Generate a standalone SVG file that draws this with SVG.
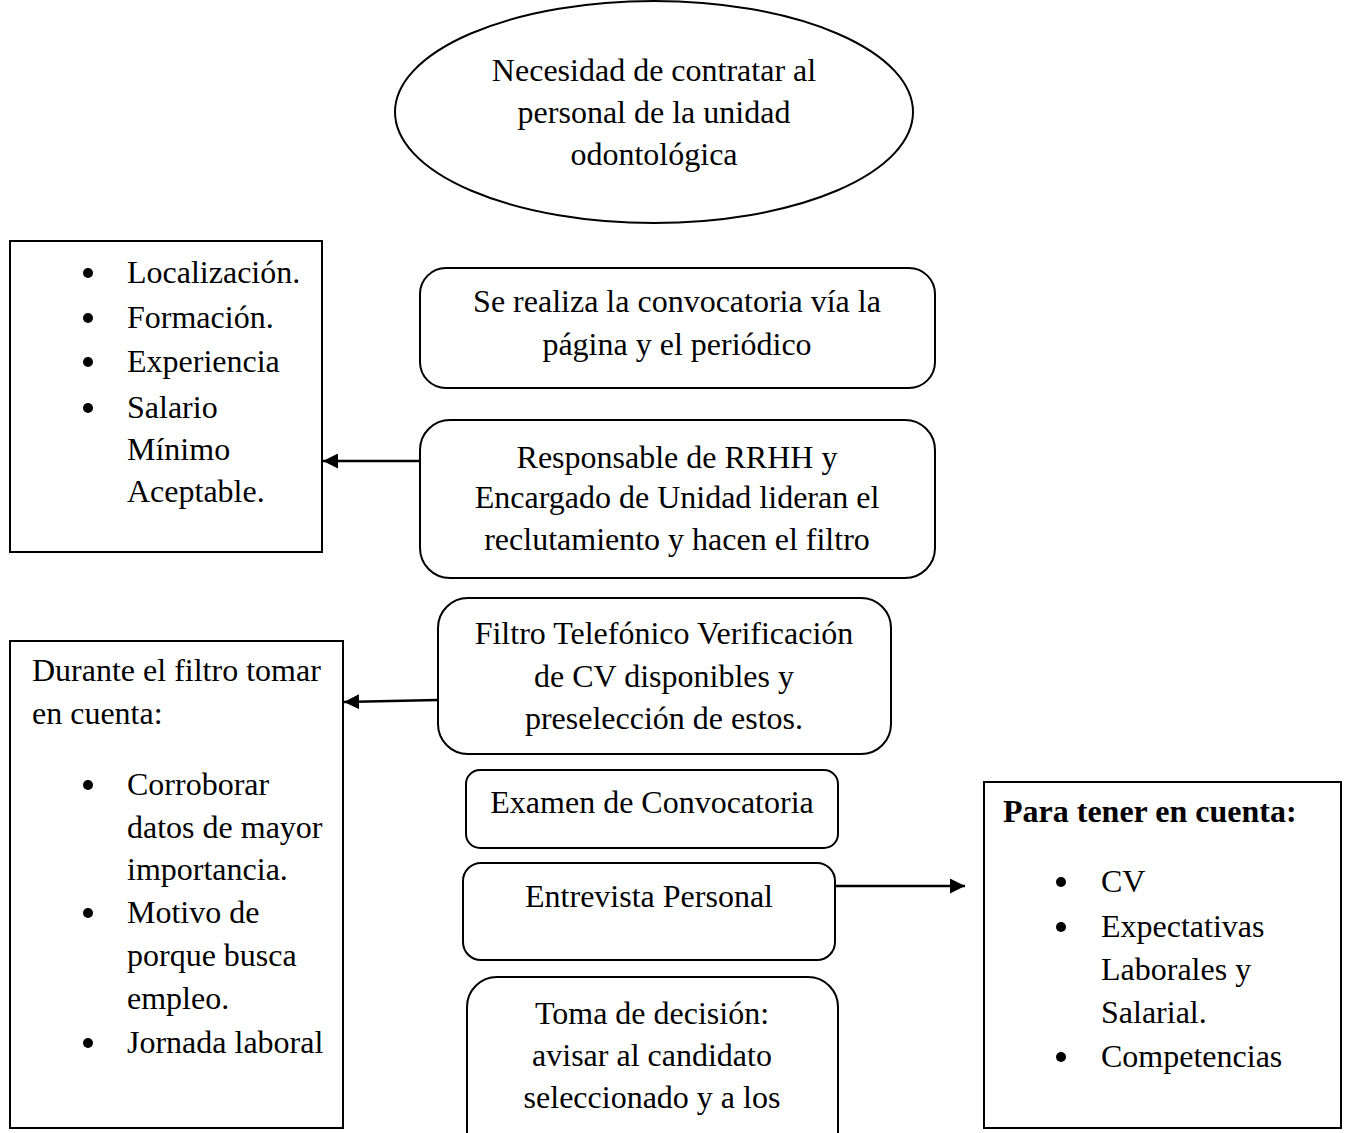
<svg xmlns="http://www.w3.org/2000/svg" width="1345" height="1133" viewBox="0 0 1345 1133">
<style>
  .shape { fill: #ffffff; stroke: #000000; stroke-width: 2; }
  .t { font-family: "Liberation Serif", "Times New Roman", serif; font-size: 32px; fill: #000000; }
  .c { text-anchor: middle; }
  .b { font-weight: bold; }
  .conn { stroke: #000000; stroke-width: 2.5; fill: none; marker-end: url(#arrow); }
</style>
<defs>
  <marker id="arrow" viewBox="0 0 10 10" refX="10" refY="5" markerWidth="6" markerHeight="6" markerUnits="strokeWidth" orient="auto">
    <path d="M0,0 L10,5 L0,10 z" fill="#000000"/>
  </marker>
</defs>
<rect x="0" y="0" width="1345" height="1133" fill="#ffffff"/>

<g id="n-necesidad">
  <ellipse class="shape" cx="654" cy="112" rx="259" ry="111"/>
  <text class="t c" x="654" y="81">Necesidad de contratar al</text>
  <text class="t c" x="654" y="123">personal de la unidad</text>
  <text class="t c" x="654" y="165">odontológica</text>
</g>

<g id="n-criterios">
  <rect class="shape" x="10" y="241" width="312" height="311"/>
  <circle cx="88" cy="273" r="5"/>
  <text class="t" x="127" y="283">Localización.</text>
  <circle cx="88" cy="318" r="5"/>
  <text class="t" x="127" y="328">Formación.</text>
  <circle cx="88" cy="362" r="5"/>
  <text class="t" x="127" y="372">Experiencia</text>
  <circle cx="88" cy="408" r="5"/>
  <text class="t" x="127" y="418">Salario</text>
  <text class="t" x="127" y="460">Mínimo</text>
  <text class="t" x="127" y="502">Aceptable.</text>
</g>

<g id="n-convocatoria">
  <rect class="shape" x="420" y="268" width="515" height="120" rx="26" ry="26"/>
  <text class="t c" x="677" y="312">Se realiza la convocatoria vía la</text>
  <text class="t c" x="677" y="355">página y el periódico</text>
</g>

<g id="n-responsable">
  <rect class="shape" x="420" y="420" width="515" height="158" rx="30" ry="30"/>
  <text class="t c" x="677" y="468">Responsable de RRHH y</text>
  <text class="t c" x="677" y="508">Encargado de Unidad lideran el</text>
  <text class="t c" x="677" y="550">reclutamiento y hacen el filtro</text>
</g>

<g id="n-filtro">
  <rect class="shape" x="438" y="598" width="453" height="156" rx="30" ry="30"/>
  <text class="t c" x="664" y="644">Filtro Telefónico Verificación</text>
  <text class="t c" x="664" y="687">de CV disponibles y</text>
  <text class="t c" x="664" y="729">preselección de estos.</text>
</g>

<g id="n-durante">
  <rect class="shape" x="10" y="641" width="333" height="487"/>
  <text class="t" x="32" y="681">Durante el filtro tomar</text>
  <text class="t" x="32" y="724">en cuenta:</text>
  <circle cx="88" cy="785" r="5"/>
  <text class="t" x="127" y="795">Corroborar</text>
  <text class="t" x="127" y="838">datos de mayor</text>
  <text class="t" x="127" y="880">importancia.</text>
  <circle cx="88" cy="913" r="5"/>
  <text class="t" x="127" y="923">Motivo de</text>
  <text class="t" x="127" y="966">porque busca</text>
  <text class="t" x="127" y="1009">empleo.</text>
  <circle cx="88" cy="1043" r="5"/>
  <text class="t" x="127" y="1053">Jornada laboral</text>
</g>

<g id="n-examen">
  <rect class="shape" x="466" y="770" width="372" height="78" rx="14" ry="14"/>
  <text class="t c" x="652" y="813">Examen de Convocatoria</text>
</g>

<g id="n-entrevista">
  <rect class="shape" x="463" y="863" width="372" height="97" rx="18" ry="18"/>
  <text class="t c" x="649" y="907">Entrevista Personal</text>
</g>

<g id="n-tener">
  <rect class="shape" x="984" y="782" width="357" height="346"/>
  <text class="t b" x="1003" y="822">Para tener en cuenta:</text>
  <circle cx="1061" cy="882" r="5"/>
  <text class="t" x="1101" y="892">CV</text>
  <circle cx="1061" cy="927" r="5"/>
  <text class="t" x="1101" y="937">Expectativas</text>
  <text class="t" x="1101" y="980">Laborales y</text>
  <text class="t" x="1101" y="1023">Salarial.</text>
  <circle cx="1061" cy="1057" r="5"/>
  <text class="t" x="1101" y="1067">Competencias</text>
</g>

<g id="n-decision">
  <rect class="shape" x="467" y="977" width="371" height="190" rx="30" ry="30"/>
  <text class="t c" x="652" y="1024">Toma de decisión:</text>
  <text class="t c" x="652" y="1066">avisar al candidato</text>
  <text class="t c" x="652" y="1108">seleccionado y a los</text>
</g>

<g id="connectors">
  <line class="conn" x1="420" y1="461" x2="323" y2="461"/>
  <line class="conn" x1="438" y1="700" x2="344" y2="702"/>
  <line class="conn" x1="835" y1="886" x2="965" y2="886"/>
</g>
</svg>
